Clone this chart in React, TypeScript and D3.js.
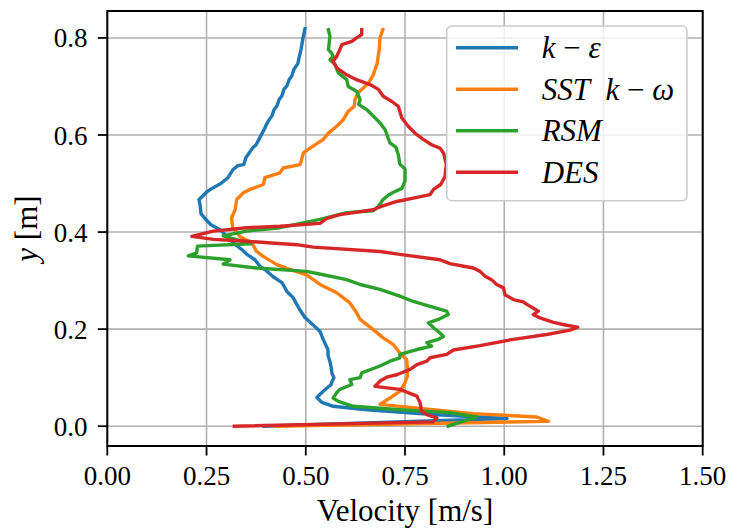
import React from 'react';
import * as d3 from 'd3';

// [velocity m/s, y m]
const kEpsilon: [number, number][] = [
  [0.498,0.819],[0.493,0.800],[0.488,0.776],[0.483,0.759],[0.480,0.747],[0.470,0.735],[0.465,0.722],[0.458,0.714],
  [0.453,0.702],[0.445,0.694],[0.440,0.681],[0.433,0.673],[0.428,0.661],[0.420,0.652],[0.415,0.640],[0.405,0.628],
  [0.400,0.620],[0.395,0.611],[0.387,0.599],[0.382,0.591],[0.375,0.580],[0.367,0.574],[0.360,0.566],[0.349,0.553],
  [0.344,0.539],[0.329,0.537],[0.317,0.529],[0.304,0.512],[0.286,0.500],[0.264,0.490],[0.251,0.483],[0.241,0.475],
  [0.231,0.467],[0.234,0.455],[0.236,0.438],[0.246,0.428],[0.261,0.415],[0.284,0.405],[0.302,0.391],[0.317,0.378],
  [0.339,0.364],[0.352,0.354],[0.372,0.343],[0.385,0.329],[0.397,0.323],[0.418,0.308],[0.440,0.296],[0.453,0.277],
  [0.468,0.265],[0.478,0.250],[0.485,0.240],[0.498,0.224],[0.511,0.214],[0.526,0.203],[0.536,0.195],[0.544,0.179],
  [0.551,0.166],[0.556,0.158],[0.556,0.146],[0.561,0.133],[0.564,0.121],[0.566,0.109],[0.571,0.100],[0.566,0.092],
  [0.564,0.086],[0.544,0.072],[0.528,0.059],[0.541,0.049],[0.569,0.041],[0.654,0.034],[0.821,0.024],[1.007,0.016],
  [0.395,0.0],
];

const sstKOmega: [number, number][] = [
  [0.694,0.817],[0.687,0.800],[0.685,0.776],[0.680,0.748],[0.670,0.724],[0.658,0.707],[0.645,0.697],[0.632,0.687],
  [0.624,0.673],[0.622,0.659],[0.607,0.649],[0.595,0.632],[0.578,0.618],[0.557,0.604],[0.544,0.591],[0.511,0.573],
  [0.494,0.563],[0.486,0.539],[0.443,0.532],[0.435,0.522],[0.397,0.512],[0.393,0.498],[0.360,0.488],[0.343,0.481],
  [0.326,0.467],[0.322,0.446],[0.313,0.429],[0.316,0.409],[0.334,0.391],[0.364,0.378],[0.376,0.360],[0.393,0.350],
  [0.427,0.333],[0.460,0.323],[0.502,0.312],[0.536,0.292],[0.578,0.275],[0.611,0.254],[0.628,0.234],[0.637,0.220],
  [0.670,0.199],[0.695,0.182],[0.721,0.168],[0.737,0.151],[0.754,0.137],[0.756,0.117],[0.756,0.103],[0.750,0.089],
  [0.737,0.072],[0.712,0.058],[0.687,0.045],[0.922,0.026],[1.082,0.019],[1.111,0.010],[0.425,0.0],
];

const rsm: [number, number][] = [
  [0.557,0.817],[0.561,0.803],[0.557,0.776],[0.565,0.769],[0.569,0.762],[0.561,0.755],[0.574,0.745],[0.582,0.728],
  [0.603,0.714],[0.607,0.700],[0.628,0.690],[0.637,0.673],[0.633,0.663],[0.654,0.652],[0.670,0.639],[0.687,0.625],
  [0.700,0.611],[0.706,0.597],[0.712,0.584],[0.727,0.575],[0.733,0.560],[0.737,0.540],[0.750,0.530],[0.750,0.505],
  [0.742,0.490],[0.721,0.482],[0.708,0.476],[0.695,0.467],[0.683,0.453],[0.670,0.444],[0.603,0.440],[0.536,0.426],
  [0.435,0.409],[0.351,0.402],[0.292,0.392],[0.362,0.376],[0.227,0.371],[0.225,0.357],[0.204,0.351],[0.309,0.343],
  [0.292,0.334],[0.376,0.326],[0.502,0.319],[0.544,0.312],[0.603,0.302],[0.637,0.292],[0.687,0.282],[0.737,0.268],
  [0.771,0.257],[0.813,0.247],[0.855,0.237],[0.859,0.230],[0.834,0.220],[0.809,0.213],[0.822,0.203],[0.838,0.192],
  [0.847,0.185],[0.834,0.179],[0.805,0.172],[0.817,0.165],[0.780,0.158],[0.737,0.148],[0.737,0.141],[0.712,0.134],
  [0.687,0.124],[0.641,0.110],[0.637,0.100],[0.611,0.096],[0.616,0.086],[0.586,0.076],[0.578,0.069],[0.569,0.058],
  [0.582,0.051],[0.620,0.041],[0.737,0.034],[0.863,0.028],[0.931,0.019],[0.859,0.0],
];

const des: [number, number][] = [
  [0.641,0.817],[0.641,0.807],[0.628,0.800],[0.616,0.793],[0.591,0.786],[0.586,0.776],[0.578,0.762],[0.569,0.752],
  [0.578,0.738],[0.603,0.724],[0.628,0.714],[0.662,0.704],[0.683,0.694],[0.695,0.680],[0.717,0.669],[0.733,0.659],
  [0.742,0.635],[0.758,0.618],[0.775,0.604],[0.796,0.591],[0.817,0.580],[0.838,0.573],[0.847,0.563],[0.854,0.540],
  [0.851,0.515],[0.840,0.498],[0.822,0.488],[0.813,0.477],[0.771,0.470],[0.729,0.463],[0.687,0.452],[0.670,0.446],
  [0.586,0.436],[0.553,0.428],[0.536,0.418],[0.435,0.412],[0.351,0.409],[0.267,0.402],[0.213,0.391],[0.267,0.385],
  [0.351,0.381],[0.477,0.374],[0.519,0.369],[0.687,0.360],[0.737,0.354],[0.838,0.343],[0.863,0.335],[0.922,0.326],
  [0.939,0.319],[0.952,0.309],[0.968,0.302],[0.981,0.292],[0.998,0.285],[1.002,0.271],[1.023,0.261],[1.048,0.256],
  [1.065,0.247],[1.086,0.237],[1.073,0.230],[1.090,0.223],[1.124,0.214],[1.157,0.208],[1.185,0.204],[1.166,0.198],
  [1.107,0.189],[1.023,0.179],[0.939,0.166],[0.872,0.157],[0.855,0.148],[0.813,0.141],[0.805,0.134],[0.780,0.127],
  [0.763,0.117],[0.729,0.106],[0.704,0.101],[0.687,0.093],[0.674,0.082],[0.737,0.076],[0.780,0.062],[0.788,0.048],
  [0.792,0.031],[0.805,0.024],[0.830,0.017],[0.821,0.009],[0.320,0.0],
];

const xTicks = [0, 0.25, 0.5, 0.75, 1.0, 1.25, 1.5];
const yTicks = [0, 0.2, 0.4, 0.6, 0.8];
const colors = ['#1f77b4', '#ff7f0e', '#2ca02c', '#d62728'];

const W = 731, H = 529;
const L = 107.3, R = 702.7, T = 11, B = 446;
const FONT = '"Liberation Serif", "DejaVu Serif", serif';

export default function App() {
  const x = d3.scaleLinear().domain([0, 1.5]).range([L, R]);
  const y = d3.scaleLinear().domain([-0.0408, 0.8555]).range([B, T]);
  const line = d3.line<[number, number]>().x(d => x(d[0])).y(d => y(d[1]));
  const series = [kEpsilon, sstKOmega, rsm, des];

  const legendItems: React.ReactNode[] = [
    <><tspan fontStyle="italic">k</tspan><tspan> − </tspan><tspan fontStyle="italic">ε</tspan></>,
    <><tspan fontStyle="italic">SST</tspan><tspan>  </tspan><tspan fontStyle="italic">k</tspan><tspan> − </tspan><tspan fontStyle="italic">ω</tspan></>,
    <><tspan fontStyle="italic">RSM</tspan></>,
    <><tspan fontStyle="italic">DES</tspan></>,
  ];
  const lgX = 446.7, lgY = 26, lgW = 240.3, lgH = 174.7;
  const entryY = [47.7, 89.2, 130.8, 172.3];

  return (
    <svg width={W} height={H} style={{ position: 'absolute', left: 0, top: 0, background: '#fff' }} fontFamily={FONT}>
      <rect x={0} y={0} width={W} height={H} fill="#fff" />
      {/* grid */}
      <g stroke="#b0b0b0" strokeWidth={1.6}>
        {xTicks.map(t => <line key={'gx' + t} x1={x(t)} x2={x(t)} y1={T} y2={B} />)}
        {yTicks.map(t => <line key={'gy' + t} x1={L} x2={R} y1={y(t)} y2={y(t)} />)}
      </g>
      {/* data */}
      <g fill="none" strokeWidth={3.4} strokeLinejoin="round" strokeLinecap="square">
        {series.map((s, i) => <path key={i} d={line(s) || ''} stroke={colors[i]} />)}
      </g>
      {/* frame */}
      <rect x={L} y={T} width={R - L} height={B - T} fill="none" stroke="#000" strokeWidth={2} />
      {/* ticks */}
      <g stroke="#000" strokeWidth={1.8}>
        {xTicks.map(t => <line key={'tx' + t} x1={x(t)} x2={x(t)} y1={B} y2={B + 9.5} />)}
        {yTicks.map(t => <line key={'ty' + t} x1={L - 9.5} x2={L} y1={y(t)} y2={y(t)} />)}
      </g>
      <g fontSize={27} fill="#000">
        {xTicks.map(t => <text key={'lx' + t} x={x(t)} y={485} textAnchor="middle">{t.toFixed(2)}</text>)}
        {yTicks.map(t => <text key={'ly' + t} x={87.5} y={y(t) + 9.5} textAnchor="end">{t.toFixed(1)}</text>)}
      </g>
      <text x={(L + R) / 2} y={521} textAnchor="middle" fontSize={31}>Velocity [m/s]</text>
      <text transform={`translate(37, ${(T + B) / 2}) rotate(-90)`} textAnchor="middle" fontSize={31}>
        <tspan fontStyle="italic">y</tspan><tspan> [m]</tspan>
      </text>
      {/* legend */}
      <rect x={lgX} y={lgY} width={lgW} height={lgH} rx={5} ry={5} fill="#fff" fillOpacity={0.8} stroke="#cccccc" strokeWidth={1.6} />
      {legendItems.map((item, i) => (
        <g key={'lg' + i}>
          <line x1={456} x2={518} y1={entryY[i]} y2={entryY[i]} stroke={colors[i]} strokeWidth={3.4} />
          <text x={541.7} y={entryY[i] + 10.5} fontSize={31} xmlSpace="preserve" style={{ whiteSpace: 'pre' }}>{item}</text>
        </g>
      ))}
    </svg>
  );
}
